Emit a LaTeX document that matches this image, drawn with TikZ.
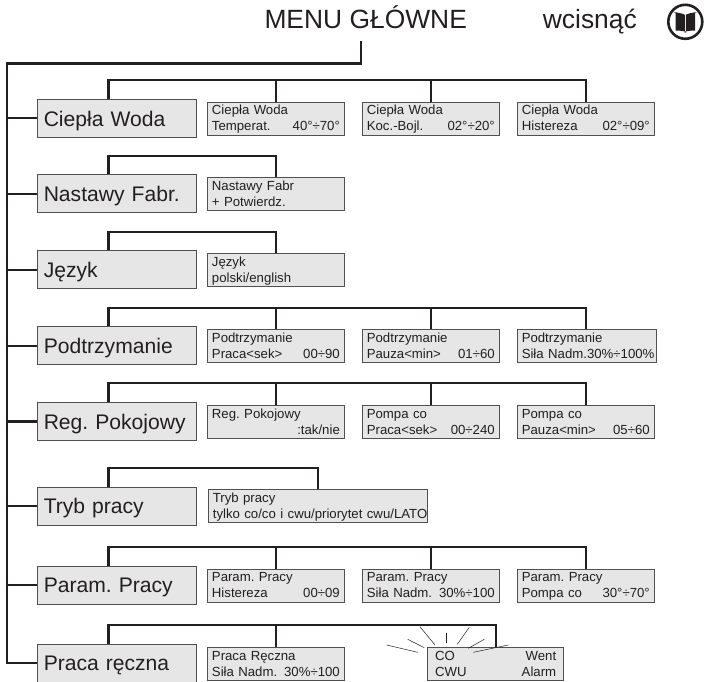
\documentclass[tikz,border=0pt]{standalone}
\usepackage{fontspec}
\setmainfont{Liberation Sans}
\frenchspacing
\definecolor{ink}{HTML}{231F20}
\definecolor{panel}{HTML}{E6E6E6}
\definecolor{edge}{HTML}{505050}
\tikzset{
  bus/.style={draw=ink,line width=2.3pt,line cap=butt,line join=miter},
  mainbox/.style={draw=edge,fill=panel,line width=0.9pt,minimum width=159.3pt,minimum height=38pt,
    inner sep=0pt,inner xsep=6.4pt,text width=146.5pt,align=left,text=ink,font=\fontsize{21.1}{24}\selectfont},
  subbox/.style={draw=edge,fill=panel,line width=0.8pt,minimum height=33pt,inner sep=0pt,inner xsep=4.2pt,
    align=left,text=ink,font=\fontsize{13.2}{16}\selectfont},
  head/.style={anchor=base west,inner sep=0pt,text=ink,font=\fontsize{26.4}{30}\selectfont},
  ray/.style={draw=ink,line width=0.5pt}
}
\newcommand\mainpanel[3]{\node[mainbox] (#1) at (117,#2) {\rule[-3.2pt]{0pt}{23.2pt}#3};}
\newcommand\subpanel[7][136.3]{\node[subbox,minimum width=#1pt,text width=#1pt-8.4pt,yshift=-0.4pt] (#2) at (#3,#4)
  {\rule{0pt}{11.6pt}#5\\\hbox to\hsize{\rule[-3pt]{0pt}{3pt}#6\hfill #7}};}
\begin{document}
\begin{tikzpicture}[x=1pt,y=-1pt]
\useasboundingbox (0,0) rectangle (705,682);
\node[head] (title) at (264.3,28.3) {MENU GŁÓWNE};
\node[head] (press) at (542.7,28.3) {wcisnąć};
\node[draw=ink,line width=2.6pt,circle,minimum size=34pt,inner sep=0pt] (icon) at (685.3,21.8) {};
\fill[ink] (icon.center) ++(-0.5,-7) .. controls +(-3,-2) and +(-6,-2) .. ++(-9.2,-1.6) -- ++(0,17.4) .. controls +(3,-0.6) and +(6,-0.2) .. ++(9.2,1.8) -- cycle;
\fill[ink] (icon.center) ++(0.5,-7) .. controls +(3,-2) and +(6,-2) .. ++(9.2,-1.6) -- ++(0,17.4) .. controls +(-3,-0.6) and +(-6,-0.2) .. ++(-9.2,1.8) -- cycle;

\coordinate (drop) at (361,40.7);
\coordinate (spine) at (7.2,63.5);

\mainpanel{m1}{118.3}{Ciepła Woda}
\subpanel{s11}{275.9}{118.2}{Ciepła Woda}{Temperat.}{40°÷70°}
\subpanel{s12}{430.8}{118.2}{Ciepła Woda}{Koc.-Bojl.}{02°÷20°}
\subpanel{s13}{585.8}{118.2}{Ciepła Woda}{Histereza}{02°÷09°}
\mainpanel{m2}{193.9}{Nastawy Fabr.}
\subpanel{s21}{275.9}{193.9}{Nastawy Fabr}{+ Potwierdz.}{}
\mainpanel{m3}{269.7}{Język}
\subpanel{s31}{275.9}{269.6}{Język}{polski/english}{}
\mainpanel{m4}{345.9}{Podtrzymanie}
\subpanel{s41}{275.9}{345.8}{Podtrzymanie}{Praca<sek>}{00÷90}
\subpanel{s42}{430.8}{345.8}{Podtrzymanie}{Pauza<min>}{01÷60}
\subpanel[138.5]{s43}{586.8}{345.8}{Podtrzymanie}{Siła Nadm.30\%÷100\%}{}
\mainpanel{m5}{421.5}{Reg. Pokojowy}
\subpanel{s51}{275.9}{421.5}{Reg. Pokojowy}{}{:tak/nie}
\subpanel{s52}{430.8}{421.5}{Pompa co}{Praca<sek>}{00÷240}
\subpanel{s53}{585.8}{421.5}{Pompa co}{Pauza<min>}{05÷60}
\mainpanel{m6}{506}{Tryb pracy}
\subpanel[218.5]{s61}{317.9}{505.4}{Tryb pracy}{tylko co/co i cwu/priorytet cwu/LATO}{}
\mainpanel{m7}{585}{Param. Pracy}
\subpanel{s71}{275.9}{585}{Param. Pracy}{Histereza}{00÷09}
\subpanel{s72}{430.8}{585}{Param. Pracy}{Siła Nadm.}{30\%÷100}
\subpanel{s73}{585.8}{585}{Param. Pracy}{Pompa co}{30°÷70°}
\mainpanel{m8}{663}{Praca ręczna}
\subpanel{s81}{275.9}{663.6}{Praca Ręczna}{Siła Nadm.}{30\%÷100}
\node[subbox,minimum width=136.3pt,text width=121pt,yshift=-0.4pt] (s82) at (495.7,663.6)
  {\rule{0pt}{11.6pt}CO\hfill Went\\\hbox to\hsize{\rule[-3pt]{0pt}{3pt}CWU\hfill Alarm}};

% trunk
\draw[bus] (drop) |- (spine) |- (m8.west);
\foreach \m in {m1,m2,m3,m4,m5,m6,m7}{\draw[bus] (\m.west) -- (\m.west -| spine);}

% row buses
\coordinate (b1) at (108.4,80);
\coordinate (b2) at (108.4,156);
\coordinate (b3) at (108.4,232);
\coordinate (b4) at (108.4,307.7);
\coordinate (b5) at (108.4,383.3);
\coordinate (b6) at (108.4,468);
\coordinate (b7) at (108.4,547.3);
\coordinate (b8) at (108.4,625.3);
\draw[bus] (m1.north -| b1) -- (b1) -| (s13.north);
\draw[bus] (s11.north |- b1) -- (s11.north);
\draw[bus] (s12.north |- b1) -- (s12.north);
\draw[bus] (m2.north -| b2) -- (b2) -| (s21.north);
\draw[bus] (m3.north -| b3) -- (b3) -| (s31.north);
\draw[bus] (m4.north -| b4) -- (b4) -| (s43.north -| s13.north);
\draw[bus] (s41.north |- b4) -- (s41.north);
\draw[bus] (s42.north |- b4) -- (s42.north);
\draw[bus] (m5.north -| b5) -- (b5) -| (s53.north);
\draw[bus] (s51.north |- b5) -- (s51.north);
\draw[bus] (s52.north |- b5) -- (s52.north);
\draw[bus] (m6.north -| b6) -- (b6) -| (s61.north);
\draw[bus] (m7.north -| b7) -- (b7) -| (s73.north);
\draw[bus] (s71.north |- b7) -- (s71.north);
\draw[bus] (s72.north |- b7) -- (s72.north);
\draw[bus] (m8.north -| b8) -- (b8) -| (s82.north);
\draw[bus] (s81.north |- b8) -- (s81.north);

% flashing rays
\draw[ray] (420,626.7) -- (435,645);
\draw[ray] (446,632.7) -- (446,642.7);
\draw[ray] (469.3,627.3) -- (457.3,644.3);
\draw[ray] (484.3,639.3) -- (468.3,648.3);
\draw[ray] (508.3,645) -- (473.3,652.3);
\draw[ray] (407.7,639.3) -- (424.3,647.7);
\draw[ray] (386.7,645) -- (417.7,652.3);
\end{tikzpicture}
\end{document}
